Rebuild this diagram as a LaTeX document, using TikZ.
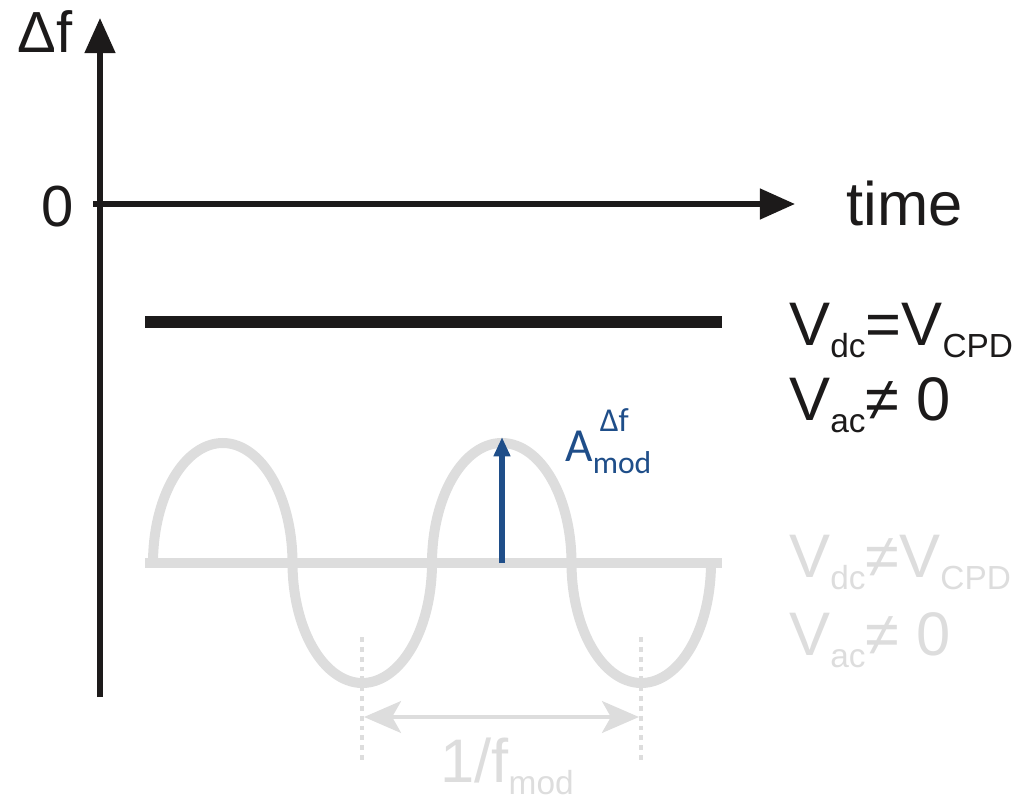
\documentclass[tikz,border=0pt]{standalone}
\usepackage{fontspec}
\setmainfont{Liberation Sans}
\newfontfamily\calfont{Carlito}
\usetikzlibrary{arrows.meta}
\definecolor{ink}{HTML}{1C1A1A}
\definecolor{pale}{HTML}{DDDDDD}
\definecolor{navy}{HTML}{1F4E89}
\newcommand{\subtxt}[1]{\raisebox{-7pt}{\fontsize{19}{19}\selectfont #1}}

\begin{document}
\begin{tikzpicture}[x=0.02cm,y=-0.02cm,
    axis/.style={ink,line width=3pt,-{Triangle[length=20pt,width=17pt]}},
    big/.style={font=\fontsize{35}{35}\selectfont,inner sep=0pt},
    wave/.style={pale,line width=5.7pt},
    marker/.style={pale,line width=2.8pt,dash pattern=on 2.8pt off 2.8pt},
    periodarrow/.style={pale,line width=2.8pt,{Stealth[length=21pt,width=18pt,inset=5pt]}-{Stealth[length=21pt,width=18pt,inset=5pt]}},
    amparrow/.style={navy,line width=3pt,-{Triangle[length=11pt,width=9pt]}}]
  \useasboundingbox (0,0) rectangle (1020,800);
  % axes
  \coordinate (yfoot) at (100,697);
  \coordinate (ytip) at (100,18);
  \coordinate (xfoot) at (93,204);
  \coordinate (xtip) at (795,204);
  \draw[axis] (yfoot) -- (ytip);
  \draw[axis] (xfoot) -- (xtip);
  \node[big,font=\fontsize{33}{33}\selectfont,ink,anchor=base east] (dflabel) at (73,53) {Δf};
  \node[big,font=\fontsize{33}{33}\selectfont,ink,anchor=base east] (zerolabel) at (74,227) {0};
  \node[big,ink,anchor=base west] (timelabel) at (846,226) {time};
  % V_dc = V_CPD: flat response
  \coordinate (dcl) at (145,322);
  \coordinate (dcr) at (722,322);
  \draw[ink,line width=6.3pt] (dcl) -- (dcr);
  \node[big,ink,anchor=base west] (eqlabel) at (789,345) {V\subtxt{dc}=V\subtxt{CPD}};
  \node[big,ink,anchor=base west] (aclabel) at (789,420) {V\subtxt{ac}≠ 0};
  % V_dc != V_CPD: modulated response (half ellipses)
  \coordinate (acl) at (145,563);
  \coordinate (acr) at (722,563);
  \draw[wave] (acl) -- (acr);
  \draw[wave] plot[domain=0:720,samples=361,variable=\t]
    ({153+139.5*(floor(\t/180)+(1-cos(mod(\t,180)))/2)},{563-120*sin(\t)});
  \node[big,pale,anchor=base west] (neqlabel) at (789,577) {V\subtxt{dc}≠V\subtxt{CPD}};
  \node[big,pale,anchor=base west] (ac2label) at (789,655) {V\subtxt{ac}≠ 0};
  % amplitude
  \coordinate (crestfoot) at (502,563);
  \coordinate (crest) at (502,437);
  \draw[amparrow] (crestfoot) -- (crest);
  \node[navy,inner sep=0pt,anchor=base west,font=\calfont\fontsize{27}{27}\selectfont] (amplabel) at (565,461)
    {A\rlap{\hspace{4pt}\raisebox{17pt}{\fontsize{19}{19}\selectfont Δf}}\raisebox{-7pt}{\fontsize{18}{18}\selectfont mod}};
  % period
  \coordinate (m1top) at (362,637);
  \coordinate (m1bot) at (362,760);
  \coordinate (m2top) at (641,637);
  \coordinate (m2bot) at (641,760);
  \draw[marker] (m1top) -- (m1bot);
  \draw[marker] (m2top) -- (m2bot);
  \coordinate (p1) at (364,717);
  \coordinate (p2) at (639,717);
  \draw[periodarrow] (p1) -- (p2);
  \node[big,pale,anchor=base west] (periodlabel) at (440,782) {1/f\subtxt{mod}};
\end{tikzpicture}
\end{document}
